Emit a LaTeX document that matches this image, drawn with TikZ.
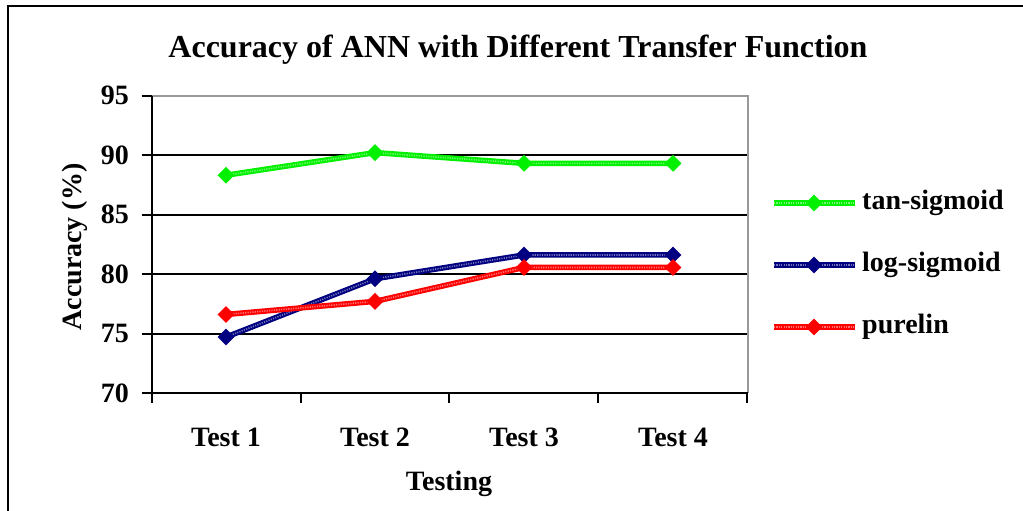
\documentclass[tikz,border=0pt]{standalone}
\usepackage{fontspec}
\setmainfont{Liberation Serif}
\usetikzlibrary{shapes.geometric}
\definecolor{cgreen}{HTML}{00F000}
\definecolor{cnavy}{HTML}{000080}
\definecolor{cred}{HTML}{FF0000}
\tikzset{
  lbl/.style={font=\bfseries\fontsize{28}{30}\selectfont, inner sep=0pt},
  ttl/.style={font=\bfseries\fontsize{32}{34}\selectfont, inner sep=0pt},
  grid/.style={line width=2pt, black},
  series/.style={line width=5.5pt, #1},
  tex/.style={line width=1.6pt, white, opacity=0.45, dash pattern=on 1.2pt off 1.2pt},
  mk/.style={diamond, fill=#1, minimum width=17pt, minimum height=17pt, inner sep=0pt},
}
\newcommand{\yv}[1]{393-(#1-70)*11.9}
\begin{document}
\begin{tikzpicture}[x=1pt,y=-1pt]
\useasboundingbox (0,0) rectangle (1023,511);
% outer frame (left and top visible)
\draw[line width=2pt] (8,511) -- (8,6) -- (1023,6);
% title
\node[ttl] (title) at (518,50) {Accuracy of ANN with Different Transfer Function};
% gridlines
\foreach \v in {75,80,85,90} {
  \draw[grid] (141.7,{\yv{\v}}) -- (747.7,{\yv{\v}});
}
\draw[line width=2pt, gray!80] (152,{\yv{95}}) -- (747.7,{\yv{95}}) -- (747.7,393);
\draw[grid] (141.7,{\yv{95}}) -- (152,{\yv{95}});
% axes
\draw[grid] (152,{\yv{95}}) -- (152,402.5);
\draw[grid] (141.7,393) -- (747.7,393);
\foreach \x in {300.7,449.3,598,746.7} { \draw[grid] (\x,393) -- (\x,402.5); }
% y tick labels
\foreach \v in {70,75,80,85,90,95} {
  \node[lbl, anchor=east] (yl\v) at (129,{\yv{\v}}) {\v};
}
% x labels
\node[lbl] (t1) at (226,437) {Test 1};
\node[lbl] (t2) at (375,437) {Test 2};
\node[lbl] (t3) at (524,437) {Test 3};
\node[lbl] (t4) at (673,437) {Test 4};
\node[lbl] (xlab) at (449,484) {Testing};
\node[lbl, rotate=90] (ylab) at (75,247) {Accuracy (\%)};
% data coordinates
\coordinate (g1) at (226,{\yv{88.3}});
\coordinate (g2) at (375,{\yv{90.2}});
\coordinate (g3) at (524,{\yv{89.3}});
\coordinate (g4) at (673,{\yv{89.3}});
\coordinate (b1) at (226,{\yv{74.7}});
\coordinate (b2) at (375,{\yv{79.6}});
\coordinate (b3) at (524,{\yv{81.6}});
\coordinate (b4) at (673,{\yv{81.6}});
\coordinate (r1) at (226,{\yv{76.6}});
\coordinate (r2) at (375,{\yv{77.7}});
\coordinate (r3) at (524,{\yv{80.55}});
\coordinate (r4) at (673,{\yv{80.55}});
% series lines
\draw[series=cgreen] (g1) -- (g2) -- (g3) -- (g4);
\draw[tex] (g1) -- (g2) -- (g3) -- (g4);
\draw[series=cnavy] (b1) -- (b2) -- (b3) -- (b4);
\draw[tex] (b1) -- (b2) -- (b3) -- (b4);
\draw[series=cred] (r1) -- (r2) -- (r3) -- (r4);
\draw[tex] (r1) -- (r2) -- (r3) -- (r4);
% markers
\foreach \i in {1,2,3,4} {
  \node[mk=cgreen] (mg\i) at (g\i) {};
  \node[mk=cnavy] (mb\i) at (b\i) {};
  \node[mk=cred] (mr\i) at (r\i) {};
}
% legend
\coordinate (lg1) at (774,203); \coordinate (lg2) at (855,203);
\coordinate (lb1) at (774,265); \coordinate (lb2) at (855,265);
\coordinate (lr1) at (774,327); \coordinate (lr2) at (855,327);
\draw[series=cgreen] (lg1) -- (lg2); \draw[tex] (lg1) -- (lg2);
\draw[series=cnavy] (lb1) -- (lb2); \draw[tex] (lb1) -- (lb2);
\draw[series=cred] (lr1) -- (lr2); \draw[tex] (lr1) -- (lr2);
\node[mk=cgreen] (lmg) at (814,203) {};
\node[mk=cnavy] (lmb) at (814,265) {};
\node[mk=cred] (lmr) at (814,327) {};
\node[lbl, anchor=west] (lt1) at (862,203) {tan-sigmoid};
\node[lbl, anchor=west] (lt2) at (862,265) {log-sigmoid};
\node[lbl, anchor=west] (lt3) at (862,327) {purelin};
\end{tikzpicture}
\end{document}
